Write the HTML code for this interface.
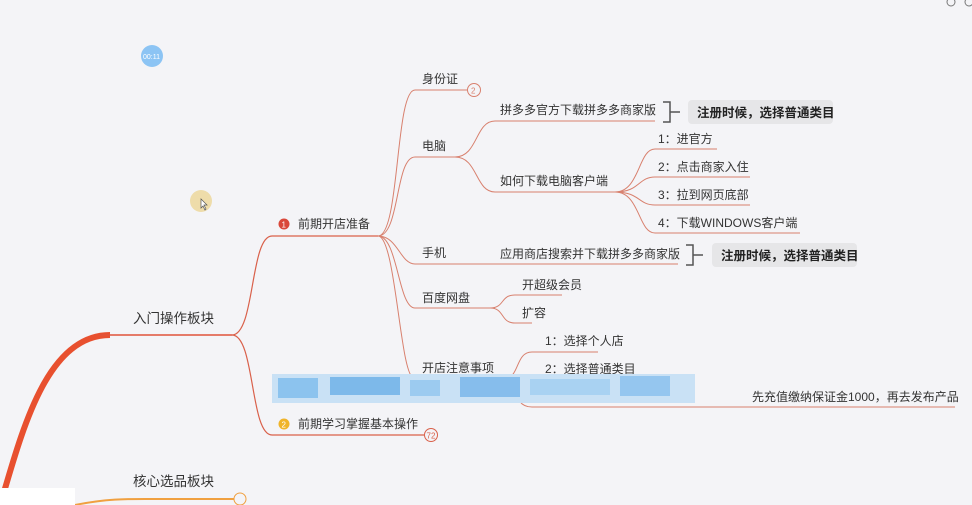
<!DOCTYPE html>
<html><head><meta charset="utf-8"><style>
html,body{margin:0;padding:0;background:#f4f4f7;width:972px;height:505px;overflow:hidden}
svg{display:block}
text{font-family:"Liberation Sans","Noto Sans CJK SC",sans-serif;font-size:12px;fill:#333}
</style></head><body>
<svg width="972" height="505" viewBox="0 0 972 505">
<rect width="972" height="505" fill="#f4f4f7"/>
<!-- main thick curve -->
<path d="M4,492 C25,420 50,335 110,335" stroke="#e8502f" stroke-width="6" fill="none"/>
<path d="M100,335 L232,335" stroke="#e0533a" stroke-width="1.5" fill="none"/>
<g stroke="#d9604a" stroke-width="1.2" fill="none">
<path d="M232,335 C255,335 250,236 272,236 L378,236"/>
<path d="M232,335 C255,335 250,435 272,435 L424,435"/>
</g>
<circle cx="431" cy="435" r="6.5" fill="none" stroke="#d9604a"/>
<text x="426.5" y="438.5" style="font-size:8px;fill:#d9604a">72</text>
<g stroke="#d8806e" stroke-width="1" fill="none">
<path d="M378,236 C400,236 395,90 415,90 L467,90"/>
<path d="M378,236 C400,236 395,157 415,157 L455,157"/>
<path d="M378,236 C398,236 400,264 415,264 L678,264"/>
<path d="M378,236 C398,236 398,308 415,308 L495,308"/>
<path d="M378,236 C396,236 400,378 414,378 L510,378"/>
<path d="M455,157 C478,157 475,121 495,121 L655,121"/>
<path d="M455,157 C478,157 475,192 495,192 L615,192"/>
<path d="M615,192 C640,192 638,149 655,149 L717,149"/>
<path d="M615,192 C640,192 638,177 655,177 L750,177"/>
<path d="M615,192 C640,192 638,205 655,205 L750,205"/>
<path d="M615,192 C640,192 638,233 655,233 L800,233"/>
<path d="M490,308 C505,308 500,295 515,295 L562,295"/>
<path d="M490,308 C505,308 500,323 515,323 L532,323"/>
<path d="M505,378 C520,378 515,352 532,352 L598,352"/>
<path d="M505,378 C520,378 515,380 532,380 L650,380"/>
<path d="M505,378 C520,378 510,407 532,407 L955,407"/>
</g>
<circle cx="474" cy="90" r="6.5" fill="#f4f4f7" stroke="#d8806e"/>
<text x="471" y="93.5" style="font-size:8px;fill:#d8806e">2</text>
<!-- brackets -->
<g stroke="#555" stroke-width="1.5" fill="none">
<path d="M663,102 L670,102 L670,122 L663,122 M670,112 L680,112"/>
<path d="M686,245 L693,245 L693,265 L686,265 M693,255 L703,255"/>
</g>
<rect x="688" y="100" width="145" height="24" rx="4" fill="#e6e6e8"/>
<text x="697" y="117" style="font-weight:bold;font-size:12.5px;fill:#222">注册时候，选择普通类目</text>
<rect x="712" y="243" width="145" height="24" rx="4" fill="#e6e6e8"/>
<text x="721" y="260" style="font-weight:bold;font-size:12.5px;fill:#222">注册时候，选择普通类目</text>
<!-- labels -->
<text x="133" y="323" style="font-size:13.5px">入门操作板块</text>
<text x="133" y="486" style="font-size:13.5px">核心选品板块</text>
<circle cx="284" cy="224" r="5.5" fill="#d9483a"/>
<text x="281.5" y="227.5" style="font-size:8px;fill:#fff">1</text>
<text x="298" y="228">前期开店准备</text>
<circle cx="284" cy="424" r="5.5" fill="#f0b429"/>
<text x="281.5" y="427.5" style="font-size:8px;fill:#fff">2</text>
<text x="298" y="428">前期学习掌握基本操作</text>
<text x="422" y="83">身份证</text>
<text x="422" y="150">电脑</text>
<text x="422" y="257">手机</text>
<text x="422" y="302">百度网盘</text>
<text x="422" y="372">开店注意事项</text>
<text x="500" y="114">拼多多官方下载拼多多商家版</text>
<text x="500" y="185">如何下载电脑客户端</text>
<text x="658" y="143">1：进官方</text>
<text x="658" y="171">2：点击商家入住</text>
<text x="658" y="199">3：拉到网页底部</text>
<text x="658" y="227">4：下载WINDOWS客户端</text>
<text x="500" y="258">应用商店搜索并下载拼多多商家版</text>
<text x="522" y="289">开超级会员</text>
<text x="522" y="317">扩容</text>
<text x="545" y="345">1：选择个人店</text>
<text x="545" y="373">2：选择普通类目</text>
<text x="752" y="401">先充值缴纳保证金1000，再去发布产品</text>
<!-- blur band -->
<g>
<rect x="272" y="374" width="423" height="29" fill="#c9e1f5"/>
<rect x="278" y="378" width="40" height="20" fill="#8cc3ee"/>
<rect x="330" y="377" width="70" height="18" fill="#7db9ea"/>
<rect x="410" y="380" width="30" height="16" fill="#9ccbf0"/>
<rect x="460" y="377" width="60" height="20" fill="#86bdec"/>
<rect x="530" y="379" width="80" height="16" fill="#a9d2f2"/>
<rect x="620" y="376" width="50" height="20" fill="#95c6ef"/>
</g>
<!-- orange branch -->
<path d="M75,505 C110,498 130,499 160,499 L234,499" stroke="#f0a040" stroke-width="2" fill="none"/>
<circle cx="240" cy="499" r="6" fill="#f4f4f7" stroke="#f0a040"/>
<rect x="0" y="488" width="75" height="17" fill="#fff"/>
<!-- overlays -->
<circle cx="152" cy="56" r="11" fill="#8cc4f4"/>
<text x="143" y="59" style="font-size:7px;fill:#fff">00:11</text>
<circle cx="201" cy="201" r="11" fill="#eedcaa"/>
<path d="M201,199 L201,208 L203,206 L205,210 L206,209 L204,205 L207,205 Z" fill="#fff" stroke="#555" stroke-width="0.7"/>
<circle cx="951" cy="2" r="4" fill="none" stroke="#777"/>
<circle cx="969" cy="2" r="4" fill="none" stroke="#777"/>
</svg>
</body></html>
